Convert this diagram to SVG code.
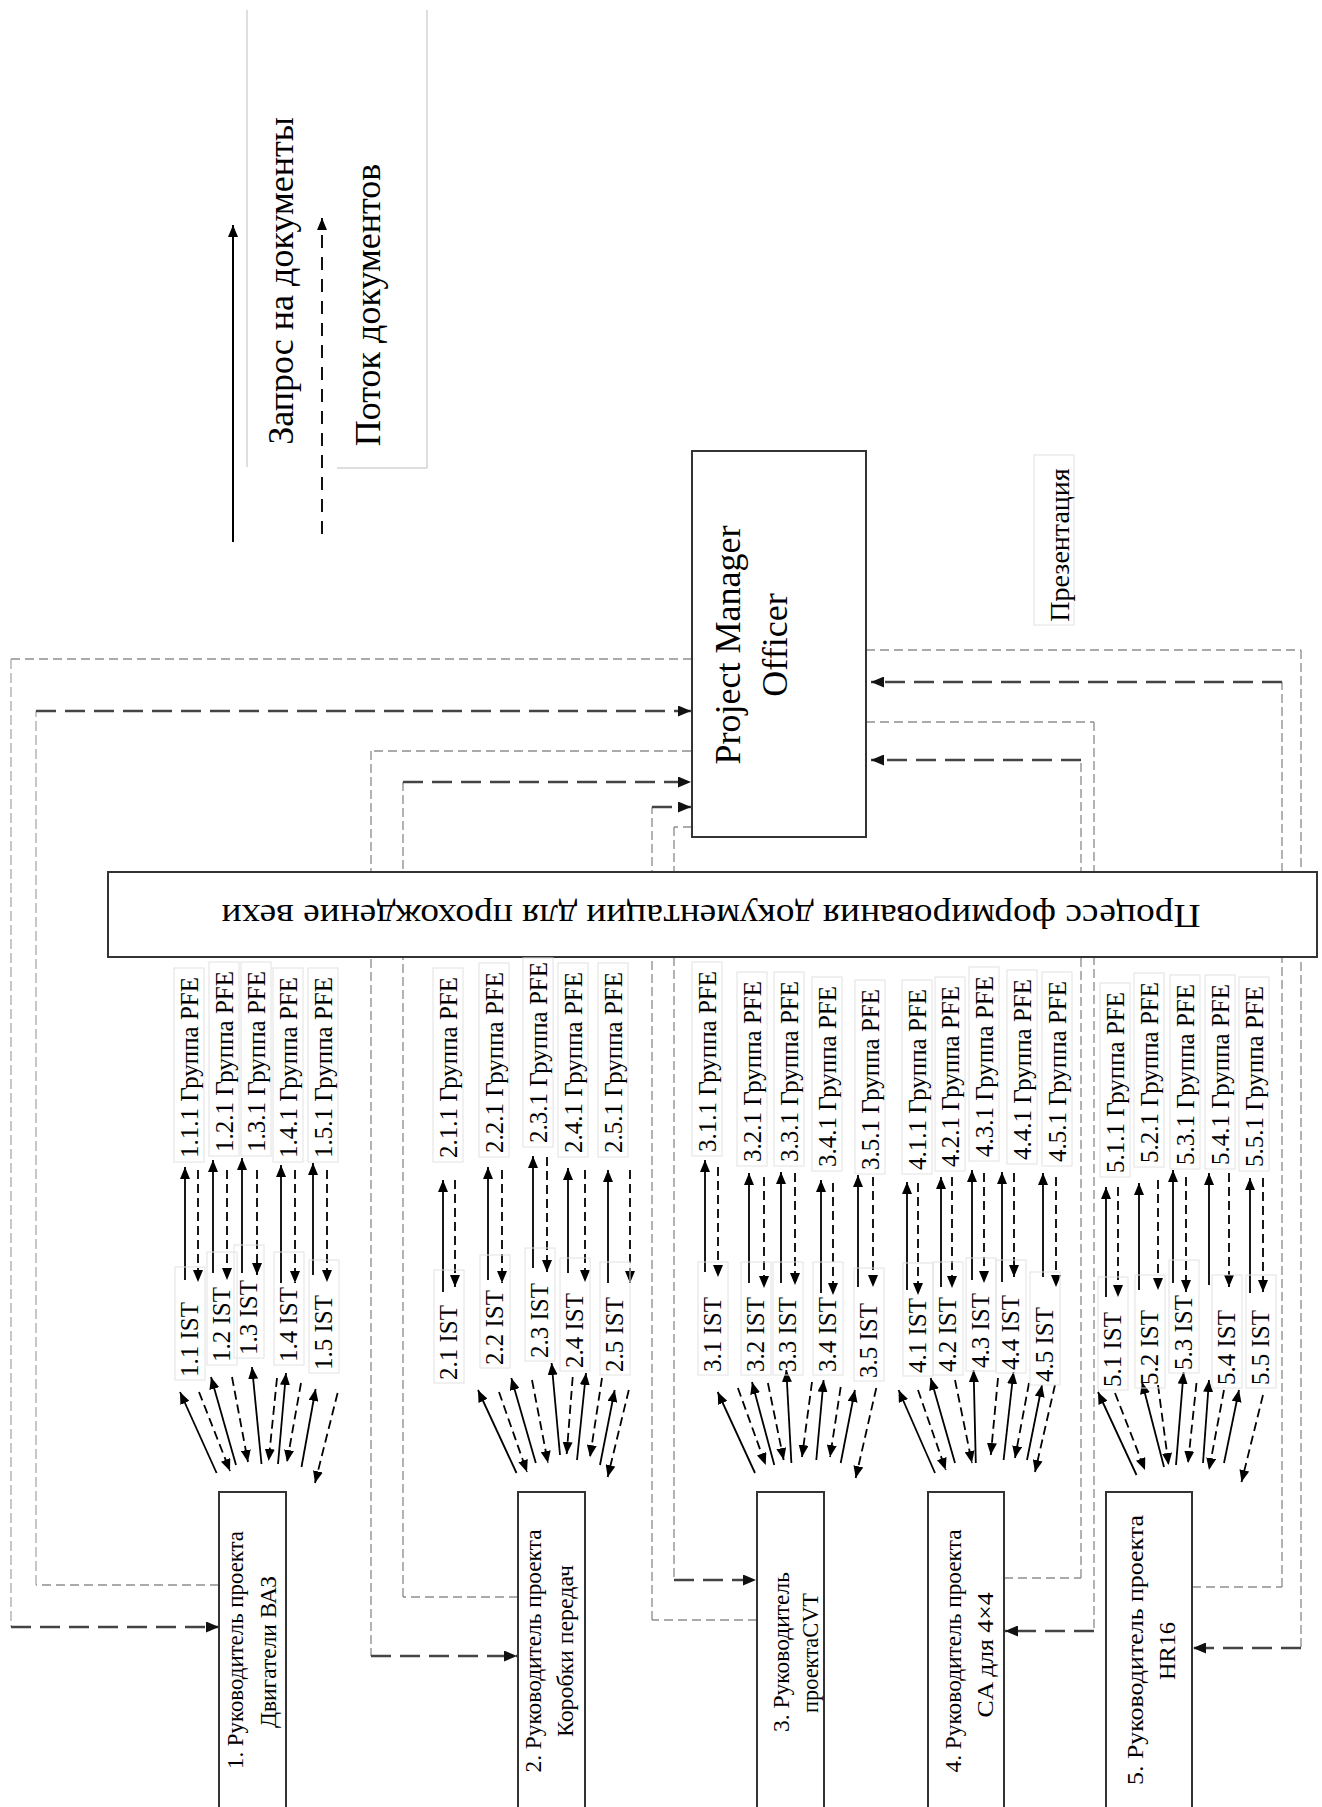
<svg xmlns="http://www.w3.org/2000/svg" width="1322" height="1807" viewBox="0 0 1322 1807">
<style>
.box{fill:#fff;stroke:#333;stroke-width:2}
.t{font-family:"Liberation Serif","Times New Roman",serif;fill:#000}
.lbl{font-family:"Liberation Serif","Times New Roman",serif;fill:#000;font-size:25px}
.bt{font-family:"Liberation Serif","Times New Roman",serif;fill:#000;font-size:23px;text-anchor:middle}
.lb{fill:none;stroke:#e2e2e2;stroke-width:1}
.lg{fill:none;stroke:#d4d4d4;stroke-width:1.5}
.sa{stroke:#000;stroke-width:1.8;fill:none;marker-end:url(#ah)}
.da{stroke:#000;stroke-width:1.8;fill:none;stroke-dasharray:9 5;marker-end:url(#ah)}
.hl{stroke:#aaa;stroke-width:2;stroke-dasharray:9 5;fill:none}
.hd{stroke:#444;stroke-width:2.6;stroke-dasharray:20 9;fill:none;marker-end:url(#ahd)}
.vl{stroke:#808080;stroke-width:1.2;stroke-dasharray:9 4;fill:none}
.vo{stroke:#b0b0b0;stroke-width:1.4;stroke-dasharray:10 4;fill:none}
</style>
<defs>
<marker id="ah" viewBox="0 0 12 10" refX="12" refY="5" markerWidth="12" markerHeight="10" markerUnits="userSpaceOnUse" orient="auto"><path d="M0,0 L12,5 L0,10 z" fill="#000"/></marker>
<marker id="ahd" viewBox="0 0 13 11" refX="13" refY="5.5" markerWidth="13" markerHeight="11" markerUnits="userSpaceOnUse" orient="auto"><path d="M0,0 L13,5.5 L0,11 z" fill="#111"/></marker>
</defs>
<rect x="0" y="0" width="1322" height="1807" fill="#fff"/>

<g id="legend">
<path class="lg" d="M247,10 V467 M427,10 V468 M337,468 H427"/>
<path d="M233,542 V225" stroke="#000" stroke-width="2" fill="none" marker-end="url(#ah)"/>
<path d="M322,534 V218" stroke="#111" stroke-width="2" stroke-dasharray="13 9" fill="none" marker-end="url(#ah)"/>
<text class="t" font-size="36" text-anchor="middle" transform="translate(293,281) rotate(-90)">Запрос на документы</text>
<text class="t" font-size="36" text-anchor="middle" transform="translate(380,305) rotate(-90)">Поток документов</text>
</g>

<g id="connectors">
<!-- group 1 -->
<path class="hl" d="M692,659 H11"/><path class="vo" d="M11,659 V1627"/><path class="hd" d="M11,1627 H219"/>
<path class="hl" d="M219,1585 H36"/><path class="vo" d="M36,1585 V711"/><path class="hd" d="M36,711 H691"/>
<!-- group 2 -->
<path class="hl" d="M691,751 H371"/><path class="vl" d="M371,751 V1656"/><path class="hd" d="M371,1656 H517"/>
<path class="hl" d="M518,1597 H403"/><path class="vl" d="M403,1597 V782"/><path class="hd" d="M403,782 H691"/>
<!-- group 3 -->
<path class="hl" d="M692,827 H674"/><path class="vl" d="M674,827 V1580"/><path class="hd" d="M674,1580 H756"/>
<path class="hl" d="M757,1620 H652"/><path class="vl" d="M652,1620 V807"/><path class="hd" d="M652,807 H691"/>
<!-- group 4 -->
<path class="hl" d="M866,722 H1094"/><path class="vl" d="M1094,722 V1631"/><path class="hd" d="M1094,1631 H1005"/>
<path class="hl" d="M1004,1578 H1081"/><path class="vl" d="M1081,1578 V760"/><path class="hd" d="M1081,760 H871"/>
<!-- group 5 -->
<path class="hl" d="M866,650 H1301"/><path class="vl" d="M1301,650 V1648"/><path class="hd" d="M1301,1648 H1193"/>
<path class="hl" d="M1192,1587 H1282"/><path class="vl" d="M1282,1587 V682"/><path class="hd" d="M1282,682 H871"/>

<!-- IST <-> PFE pairs -->
<path class="sa" d="M185,1280 V1167"/><path class="da" d="M198,1170 V1282"/>
<path class="sa" d="M213,1273 V1160"/><path class="da" d="M227,1170 V1280"/>
<path class="sa" d="M242,1273 V1158"/><path class="da" d="M257,1170 V1275"/>
<path class="sa" d="M281,1283 V1165"/><path class="da" d="M295,1170 V1283"/>
<path class="sa" d="M313,1275 V1163"/><path class="da" d="M327,1170 V1282"/>
<path class="sa" d="M443,1292 V1180"/><path class="da" d="M455,1180 V1287"/>
<path class="sa" d="M488,1280 V1167"/><path class="da" d="M502,1170 V1283"/>
<path class="sa" d="M533,1268 V1156"/><path class="da" d="M547,1157 V1272"/>
<path class="sa" d="M568,1273 V1168"/><path class="da" d="M585,1170 V1282"/>
<path class="sa" d="M608,1283 V1170"/><path class="da" d="M630,1170 V1283"/>
<path class="sa" d="M705,1272 V1160"/><path class="da" d="M718,1167 V1277"/>
<path class="sa" d="M749,1283 V1173"/><path class="da" d="M764,1177 V1288"/>
<path class="sa" d="M781,1283 V1172"/><path class="da" d="M795,1173 V1285"/>
<path class="sa" d="M821,1293 V1180"/><path class="da" d="M833,1183 V1295"/>
<path class="sa" d="M858,1287 V1175"/><path class="da" d="M873,1177 V1287"/>
<path class="sa" d="M907,1290 V1182"/><path class="da" d="M918,1183 V1295"/>
<path class="sa" d="M941,1287 V1177"/><path class="da" d="M952,1177 V1288"/>
<path class="sa" d="M972,1280 V1170"/><path class="da" d="M984,1173 V1283"/>
<path class="sa" d="M1002,1282 V1172"/><path class="da" d="M1014,1173 V1277"/>
<path class="sa" d="M1043,1277 V1173"/><path class="da" d="M1056,1177 V1287"/>
<path class="sa" d="M1106,1297 V1187"/><path class="da" d="M1118,1187 V1297"/>
<path class="sa" d="M1139,1290 V1183"/><path class="da" d="M1158,1180 V1290"/>
<path class="sa" d="M1173,1283 V1170"/><path class="da" d="M1186,1177 V1292"/>
<path class="sa" d="M1209,1285 V1173"/><path class="da" d="M1229,1173 V1287"/>
<path class="sa" d="M1250,1293 V1178"/><path class="da" d="M1263,1178 V1292"/>

<!-- fans group 1 -->
<path class="sa" d="M216.6,1473 L180,1392"/><path class="da" d="M199,1392 L230,1471"/>
<path class="sa" d="M236,1465 L211,1377"/><path class="da" d="M232,1377 L248,1462"/>
<path class="sa" d="M261.5,1464 L252,1367"/><path class="da" d="M277,1378 L268.6,1461"/>
<path class="sa" d="M278,1464 L286,1373"/><path class="da" d="M301,1383 L287,1462"/>
<path class="sa" d="M301.5,1467 L315.6,1389"/><path class="da" d="M337.6,1393 L315,1483"/>
<!-- fans group 2 -->
<path class="sa" d="M516.5,1473 L478,1390"/><path class="da" d="M499,1392 L527,1472"/>
<path class="sa" d="M535.8,1463 L511.3,1378"/><path class="da" d="M532,1380 L548,1463"/>
<path class="sa" d="M560,1455 L551.6,1363"/><path class="da" d="M572.7,1377 L566.7,1454"/>
<path class="sa" d="M577,1460 L586,1373"/><path class="da" d="M602,1378 L590,1457"/>
<path class="sa" d="M600,1465 L614.7,1390"/><path class="da" d="M628.8,1390 L607.7,1477"/>
<!-- fans group 3 -->
<path class="sa" d="M755,1473 L717.7,1392"/><path class="da" d="M737.9,1388 L765.7,1465"/>
<path class="sa" d="M774.3,1465 L752,1382"/><path class="da" d="M767.9,1383 L783.7,1460"/>
<path class="sa" d="M791.4,1463 L786.3,1370"/><path class="da" d="M812,1382 L802,1457"/>
<path class="sa" d="M816.3,1460 L823.6,1380"/><path class="da" d="M840.7,1387 L830,1457"/>
<path class="sa" d="M840.7,1463 L854.9,1390"/><path class="da" d="M876.3,1388 L855.7,1478"/>
<!-- fans group 4 -->
<path class="sa" d="M935,1473 L898.6,1390"/><path class="da" d="M918,1390 L945.7,1470"/>
<path class="sa" d="M955,1463 L930.7,1378"/><path class="da" d="M955,1380 L972,1463"/>
<path class="sa" d="M975.8,1463 L973.6,1370"/><path class="da" d="M998,1378 L990.8,1455"/>
<path class="sa" d="M1003.6,1460 L1013.5,1372"/><path class="da" d="M1029,1383 L1015,1458"/>
<path class="sa" d="M1027,1460 L1042,1385"/><path class="da" d="M1055,1385 L1035,1472"/>
<!-- fans group 5 -->
<path class="sa" d="M1136.5,1475 L1098,1392"/><path class="da" d="M1115,1393 L1145,1470"/>
<path class="sa" d="M1164,1467 L1142,1382"/><path class="da" d="M1158,1385 L1168.6,1465"/>
<path class="sa" d="M1176,1465 L1183.6,1372"/><path class="da" d="M1196.5,1383 L1188,1463"/>
<path class="sa" d="M1203,1463 L1209,1380"/><path class="da" d="M1224,1390 L1209,1470"/>
<path class="sa" d="M1224,1463 L1239,1390"/><path class="da" d="M1263,1395 L1241.5,1482"/>
</g>

<g id="process">
<rect class="box" x="108" y="872" width="1209" height="85"/>
<text class="t" font-size="34" text-anchor="middle" textLength="979" lengthAdjust="spacingAndGlyphs" transform="translate(711,905) rotate(180)">Процесс формирования документации для прохождение вехи</text>
</g>

<g id="pmo">
<rect class="box" x="692" y="451" width="174" height="386"/>
<text class="t" font-size="36" text-anchor="middle" transform="translate(740,645) rotate(-90)">Project Manager</text>
<text class="t" font-size="36" text-anchor="middle" transform="translate(787,645) rotate(-90)">Officer</text>
</g>

<g id="presentation">
<rect class="lb" x="1034" y="455" width="40" height="170"/>
<text class="t" font-size="28" text-anchor="middle" transform="translate(1069,545) rotate(-90)">Презентация</text>
</g>

<g id="pm1">
<rect class="box" x="219" y="1492" width="67" height="330"/>
<text class="bt" textLength="238" lengthAdjust="spacingAndGlyphs" transform="translate(243,1650) rotate(-90)">1. Руководитель проекта</text>
<text class="bt" textLength="152" lengthAdjust="spacingAndGlyphs" transform="translate(276,1652) rotate(-90)">Двигатели ВАЗ</text>
</g>
<g id="pm2">
<rect class="box" x="518" y="1492" width="67" height="330"/>
<text class="bt" textLength="243" lengthAdjust="spacingAndGlyphs" transform="translate(541,1651) rotate(-90)">2. Руководитель проекта</text>
<text class="bt" textLength="172" lengthAdjust="spacingAndGlyphs" transform="translate(573,1651) rotate(-90)">Коробки передач</text>
</g>
<g id="pm3">
<rect class="box" x="757" y="1492" width="67" height="330"/>
<text class="bt" textLength="160" lengthAdjust="spacingAndGlyphs" transform="translate(789,1652) rotate(-90)">3. Руководитель</text>
<text class="bt" textLength="120" lengthAdjust="spacingAndGlyphs" transform="translate(818,1653) rotate(-90)">проектаCVT</text>
</g>
<g id="pm4">
<rect class="box" x="928" y="1492" width="76" height="330"/>
<text class="bt" textLength="243" lengthAdjust="spacingAndGlyphs" transform="translate(961,1651) rotate(-90)">4. Руководитель проекта</text>
<text class="bt" textLength="125" lengthAdjust="spacingAndGlyphs" transform="translate(993,1655) rotate(-90)">CA для 4×4</text>
</g>
<g id="pm5">
<rect class="box" x="1106" y="1492" width="86" height="330"/>
<text class="bt" textLength="270" lengthAdjust="spacingAndGlyphs" transform="translate(1143,1650) rotate(-90)">5. Руководитель проекта</text>
<text class="bt" textLength="58" lengthAdjust="spacingAndGlyphs" transform="translate(1175,1651) rotate(-90)">HR16</text>
</g>

<g id="pfe-labels">
<g id="pfe-1-1-1"><rect class="lb" x="174" y="968" width="30" height="194"/><text class="lbl" transform="translate(198,1158) rotate(-90)">1.1.1 Группа PFE</text></g>
<g id="pfe-1-2-1"><rect class="lb" x="209" y="962" width="30" height="194"/><text class="lbl" transform="translate(233,1152) rotate(-90)">1.2.1 Группа PFE</text></g>
<g id="pfe-1-3-1"><rect class="lb" x="241" y="962" width="30" height="194"/><text class="lbl" transform="translate(265,1152) rotate(-90)">1.3.1 Группа PFE</text></g>
<g id="pfe-1-4-1"><rect class="lb" x="273" y="968" width="30" height="194"/><text class="lbl" transform="translate(297,1158) rotate(-90)">1.4.1 Группа PFE</text></g>
<g id="pfe-1-5-1"><rect class="lb" x="308" y="968" width="30" height="194"/><text class="lbl" transform="translate(332,1158) rotate(-90)">1.5.1 Группа PFE</text></g>
<g id="pfe-2-1-1"><rect class="lb" x="433" y="968" width="30" height="194"/><text class="lbl" transform="translate(457,1158) rotate(-90)">2.1.1 Группа PFE</text></g>
<g id="pfe-2-2-1"><rect class="lb" x="479" y="963" width="30" height="194"/><text class="lbl" transform="translate(503,1153) rotate(-90)">2.2.1 Группа PFE</text></g>
<g id="pfe-2-3-1"><rect class="lb" x="523" y="958" width="30" height="189"/><text class="lbl" transform="translate(547,1143) rotate(-90)">2.3.1 Группа PFE</text></g>
<g id="pfe-2-4-1"><rect class="lb" x="558" y="963" width="30" height="194"/><text class="lbl" transform="translate(582,1153) rotate(-90)">2.4.1 Группа PFE</text></g>
<g id="pfe-2-5-1"><rect class="lb" x="598" y="963" width="30" height="194"/><text class="lbl" transform="translate(622,1153) rotate(-90)">2.5.1 Группа PFE</text></g>
<g id="pfe-3-1-1"><rect class="lb" x="692" y="962" width="30" height="194"/><text class="lbl" transform="translate(716,1152) rotate(-90)">3.1.1 Группа PFE</text></g>
<g id="pfe-3-2-1"><rect class="lb" x="737" y="972" width="30" height="194"/><text class="lbl" transform="translate(761,1162) rotate(-90)">3.2.1 Группа PFE</text></g>
<g id="pfe-3-3-1"><rect class="lb" x="774" y="972" width="30" height="194"/><text class="lbl" transform="translate(798,1162) rotate(-90)">3.3.1 Группа PFE</text></g>
<g id="pfe-3-4-1"><rect class="lb" x="812" y="977" width="30" height="194"/><text class="lbl" transform="translate(836,1167) rotate(-90)">3.4.1 Группа PFE</text></g>
<g id="pfe-3-5-1"><rect class="lb" x="855" y="980" width="30" height="194"/><text class="lbl" transform="translate(879,1170) rotate(-90)">3.5.1 Группа PFE</text></g>
<g id="pfe-4-1-1"><rect class="lb" x="902" y="980" width="30" height="194"/><text class="lbl" transform="translate(926,1170) rotate(-90)">4.1.1 Группа PFE</text></g>
<g id="pfe-4-2-1"><rect class="lb" x="935" y="977" width="30" height="194"/><text class="lbl" transform="translate(959,1167) rotate(-90)">4.2.1 Группа PFE</text></g>
<g id="pfe-4-3-1"><rect class="lb" x="969" y="967" width="30" height="194"/><text class="lbl" transform="translate(993,1157) rotate(-90)">4.3.1 Группа PFE</text></g>
<g id="pfe-4-4-1"><rect class="lb" x="1007" y="970" width="30" height="194"/><text class="lbl" transform="translate(1031,1160) rotate(-90)">4.4.1 Группа PFE</text></g>
<g id="pfe-4-5-1"><rect class="lb" x="1042" y="972" width="30" height="194"/><text class="lbl" transform="translate(1066,1162) rotate(-90)">4.5.1 Группа PFE</text></g>
<g id="pfe-5-1-1"><rect class="lb" x="1100" y="983" width="30" height="194"/><text class="lbl" transform="translate(1124,1173) rotate(-90)">5.1.1 Группа PFE</text></g>
<g id="pfe-5-2-1"><rect class="lb" x="1134" y="973" width="30" height="194"/><text class="lbl" transform="translate(1158,1163) rotate(-90)">5.2.1 Группа PFE</text></g>
<g id="pfe-5-3-1"><rect class="lb" x="1170" y="975" width="30" height="194"/><text class="lbl" transform="translate(1194,1165) rotate(-90)">5.3.1 Группа PFE</text></g>
<g id="pfe-5-4-1"><rect class="lb" x="1205" y="975" width="30" height="194"/><text class="lbl" transform="translate(1229,1165) rotate(-90)">5.4.1 Группа PFE</text></g>
<g id="pfe-5-5-1"><rect class="lb" x="1239" y="977" width="30" height="194"/><text class="lbl" transform="translate(1263,1167) rotate(-90)">5.5.1 Группа PFE</text></g>
</g>

<g id="ist-labels">
<g id="ist-1-1"><rect class="lb" x="175" y="1267" width="30" height="113"/><text class="lbl" transform="translate(198,1377) rotate(-90)">1.1 IST</text></g>
<g id="ist-1-2"><rect class="lb" x="207" y="1252" width="30" height="113"/><text class="lbl" transform="translate(230,1362) rotate(-90)">1.2 IST</text></g>
<g id="ist-1-3"><rect class="lb" x="234" y="1245" width="30" height="113"/><text class="lbl" transform="translate(257,1355) rotate(-90)">1.3 IST</text></g>
<g id="ist-1-4"><rect class="lb" x="274" y="1252" width="30" height="113"/><text class="lbl" transform="translate(297,1362) rotate(-90)">1.4 IST</text></g>
<g id="ist-1-5"><rect class="lb" x="309" y="1260" width="30" height="113"/><text class="lbl" transform="translate(332,1370) rotate(-90)">1.5 IST</text></g>
<g id="ist-2-1"><rect class="lb" x="434" y="1270" width="30" height="113"/><text class="lbl" transform="translate(457,1380) rotate(-90)">2.1 IST</text></g>
<g id="ist-2-2"><rect class="lb" x="480" y="1255" width="30" height="113"/><text class="lbl" transform="translate(503,1365) rotate(-90)">2.2 IST</text></g>
<g id="ist-2-3"><rect class="lb" x="525" y="1248" width="30" height="113"/><text class="lbl" transform="translate(548,1358) rotate(-90)">2.3 IST</text></g>
<g id="ist-2-4"><rect class="lb" x="560" y="1258" width="30" height="113"/><text class="lbl" transform="translate(583,1368) rotate(-90)">2.4 IST</text></g>
<g id="ist-2-5"><rect class="lb" x="600" y="1262" width="30" height="113"/><text class="lbl" transform="translate(623,1372) rotate(-90)">2.5 IST</text></g>
<g id="ist-3-1"><rect class="lb" x="698" y="1262" width="30" height="113"/><text class="lbl" transform="translate(721,1372) rotate(-90)">3.1 IST</text></g>
<g id="ist-3-2"><rect class="lb" x="741" y="1262" width="30" height="113"/><text class="lbl" transform="translate(764,1372) rotate(-90)">3.2 IST</text></g>
<g id="ist-3-3"><rect class="lb" x="773" y="1262" width="30" height="113"/><text class="lbl" transform="translate(796,1372) rotate(-90)">3.3 IST</text></g>
<g id="ist-3-4"><rect class="lb" x="813" y="1262" width="30" height="113"/><text class="lbl" transform="translate(836,1372) rotate(-90)">3.4 IST</text></g>
<g id="ist-3-5"><rect class="lb" x="854" y="1268" width="30" height="113"/><text class="lbl" transform="translate(877,1378) rotate(-90)">3.5 IST</text></g>
<g id="ist-4-1"><rect class="lb" x="903" y="1263" width="30" height="113"/><text class="lbl" transform="translate(926,1373) rotate(-90)">4.1 IST</text></g>
<g id="ist-4-2"><rect class="lb" x="933" y="1262" width="30" height="113"/><text class="lbl" transform="translate(956,1372) rotate(-90)">4.2 IST</text></g>
<g id="ist-4-3"><rect class="lb" x="966" y="1258" width="30" height="113"/><text class="lbl" transform="translate(989,1368) rotate(-90)">4.3 IST</text></g>
<g id="ist-4-4"><rect class="lb" x="996" y="1260" width="30" height="113"/><text class="lbl" transform="translate(1019,1370) rotate(-90)">4.4 IST</text></g>
<g id="ist-4-5"><rect class="lb" x="1030" y="1272" width="30" height="113"/><text class="lbl" transform="translate(1053,1382) rotate(-90)">4.5 IST</text></g>
<g id="ist-5-1"><rect class="lb" x="1098" y="1277" width="30" height="113"/><text class="lbl" transform="translate(1121,1387) rotate(-90)">5.1 IST</text></g>
<g id="ist-5-2"><rect class="lb" x="1135" y="1275" width="30" height="113"/><text class="lbl" transform="translate(1158,1385) rotate(-90)">5.2 IST</text></g>
<g id="ist-5-3"><rect class="lb" x="1169" y="1260" width="30" height="113"/><text class="lbl" transform="translate(1192,1370) rotate(-90)">5.3 IST</text></g>
<g id="ist-5-4"><rect class="lb" x="1212" y="1275" width="30" height="113"/><text class="lbl" transform="translate(1235,1385) rotate(-90)">5.4 IST</text></g>
<g id="ist-5-5"><rect class="lb" x="1246" y="1275" width="30" height="113"/><text class="lbl" transform="translate(1269,1385) rotate(-90)">5.5 IST</text></g>
</g>
</svg>
